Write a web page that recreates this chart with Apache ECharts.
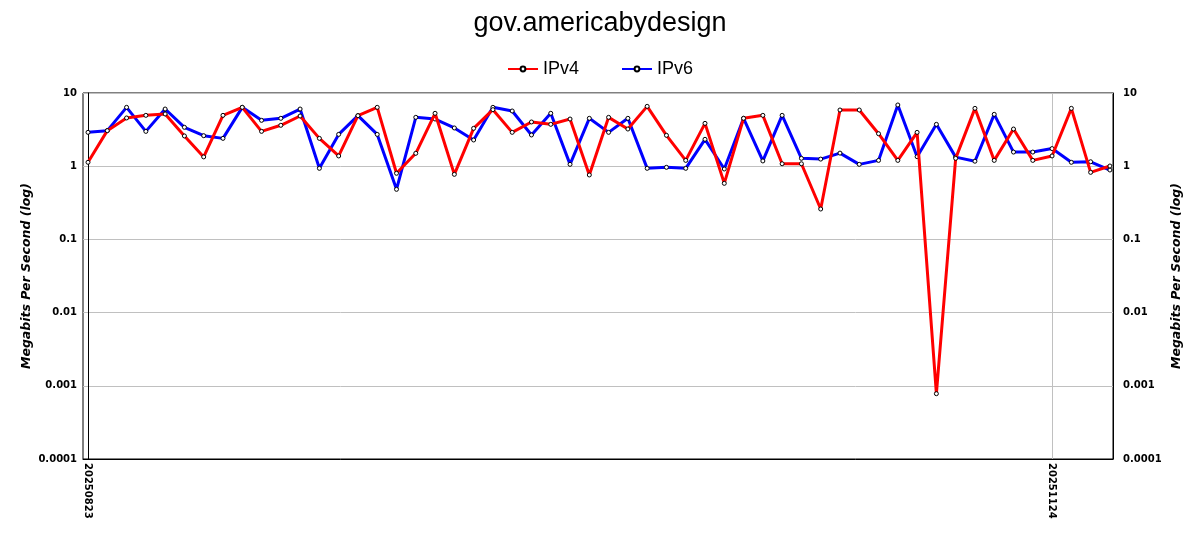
<!DOCTYPE html>
<html>
<head>
<meta charset="utf-8">
<script src="https://cdn.jsdelivr.net/npm/echarts@6/dist/echarts.min.js"></script>
<style>html,body{margin:0;padding:0;background:#fff}#c{width:1200px;height:550px}</style>
</head>
<body>
<div id="c"></div>
<script>
// x positions are sample indices; only two dates are labelled in the reference
const tickIndex = [0, 50];
const tickLabels = ['20250823', '20251124'];
const yTicks = [0.0001, 0.001, 0.01, 0.1, 1, 10];

const ipv4 = [1.13, 3.06, 4.56, 4.95, 5.17, 2.59, 1.34, 4.95, 6.37, 2.99,
  3.62, 4.85, 2.40, 1.38, 4.90, 6.37, 0.80, 1.50, 5.28, 0.774,
  3.29, 5.92, 2.90, 4.02, 3.73, 4.41, 0.759, 4.65, 3.22, 6.57,
  2.64, 1.20, 3.85, 0.583, 4.51, 4.95, 1.08, 1.08, 0.26, 5.86,
  5.86, 2.78, 1.20, 2.90, 0.00078, 1.28, 6.17, 1.20, 3.22, 1.20,
  1.38, 6.17, 0.824, 1.006];
const ipv6 = [2.90, 3.06, 6.37, 2.99, 6.04, 3.40, 2.61, 2.40, 6.37, 4.23,
  4.51, 6.04, 0.935, 2.72, 4.90, 2.72, 0.483, 4.65, 4.41, 3.33,
  2.28, 6.37, 5.68, 2.67, 5.28, 1.06, 4.51, 2.90, 4.51, 0.935,
  0.965, 0.935, 2.33, 0.916, 4.51, 1.18, 4.95, 1.28, 1.25, 1.51,
  1.06, 1.20, 6.86, 1.35, 3.73, 1.33, 1.17, 5.11, 1.56, 1.56,
  1.74, 1.13, 1.15, 0.887];

const toPairs = arr => arr.map((v, i) => [i, v]);
const fmtY = v => String(Number(Number(v).toPrecision(6)));
const fmtX = v => {
  const k = tickIndex.indexOf(Math.round(v));
  return k >= 0 ? tickLabels[k] : '';
};

const axisLabelFont = {fontFamily: 'DejaVu Sans', fontWeight: 'bold', fontSize: 10, color: '#000'};
const nameFont = {fontFamily: 'DejaVu Sans', fontWeight: 'bold', fontStyle: 'italic', fontSize: 12.5, color: '#000'};

const chart = echarts.init(document.getElementById('c'), null, {renderer: 'canvas'});
const yAxisBase = {
  type: 'log', logBase: 10, min: 0.0001, max: 10,
  name: 'Megabits Per Second (log)', nameLocation: 'middle', nameRotate: 90,
  nameMoveOverlap: false,
  nameTextStyle: nameFont,
  axisLine: {show: true, lineStyle: {color: '#000', width: 1}},
  axisTick: {show: false},
  minorTick: {show: false},
  axisLabel: Object.assign({formatter: fmtY}, axisLabelFont)
};
chart.setOption({
  animation: false,
  backgroundColor: '#fff',
  title: {
    text: 'gov.americabydesign', left: 'center', top: 5,
    textStyle: {fontFamily: 'Liberation Sans', fontWeight: 'normal', fontSize: 27, color: '#000'}
  },
  legend: {
    top: 55, left: 'center', itemWidth: 30, itemHeight: 6, itemGap: 42,
    textStyle: {fontFamily: 'Liberation Sans', fontSize: 18, color: '#000'},
    data: ['IPv4', 'IPv6']
  },
  grid: {left: 83, right: 87, top: 93, bottom: 91, show: true, borderColor: '#000', borderWidth: 1, containLabel: false},
  xAxis: {
    type: 'value', min: -0.26, max: 53.16,
    axisLine: {show: true, onZero: false, lineStyle: {color: '#000'}},
    axisTick: {show: false, customValues: tickIndex},
    axisLabel: Object.assign({customValues: tickIndex, formatter: fmtX, rotate: -90, margin: 4}, axisLabelFont),
    splitLine: {show: true, lineStyle: {color: '#c0c0c0', width: 1}}
  },
  yAxis: [
    Object.assign({}, yAxisBase, {
      position: 'left', nameGap: 50,
      axisLabel: Object.assign({}, yAxisBase.axisLabel, {margin: 6}),
      splitLine: {show: true, lineStyle: {color: '#c0c0c0', width: 1}}
    }),
    Object.assign({}, yAxisBase, {
      position: 'right', nameGap: 57,
      axisLabel: Object.assign({}, yAxisBase.axisLabel, {margin: 10}),
      splitLine: {show: false}
    })
  ],
  series: [
    {
      name: 'IPv4', type: 'line', data: toPairs(ipv4), yAxisIndex: 0,
      symbol: 'circle', symbolSize: 4, showSymbol: true,
      lineStyle: {color: '#ff0000', width: 3},
      itemStyle: {color: '#ffffff', borderColor: '#000', borderWidth: 1},
      z: 3
    },
    {
      name: 'IPv6', type: 'line', data: toPairs(ipv6), yAxisIndex: 0,
      symbol: 'circle', symbolSize: 4, showSymbol: true,
      lineStyle: {color: '#0000ff', width: 3},
      itemStyle: {color: '#ffffff', borderColor: '#000', borderWidth: 1},
      z: 2
    }
  ]
});
</script>
</body>
</html>
